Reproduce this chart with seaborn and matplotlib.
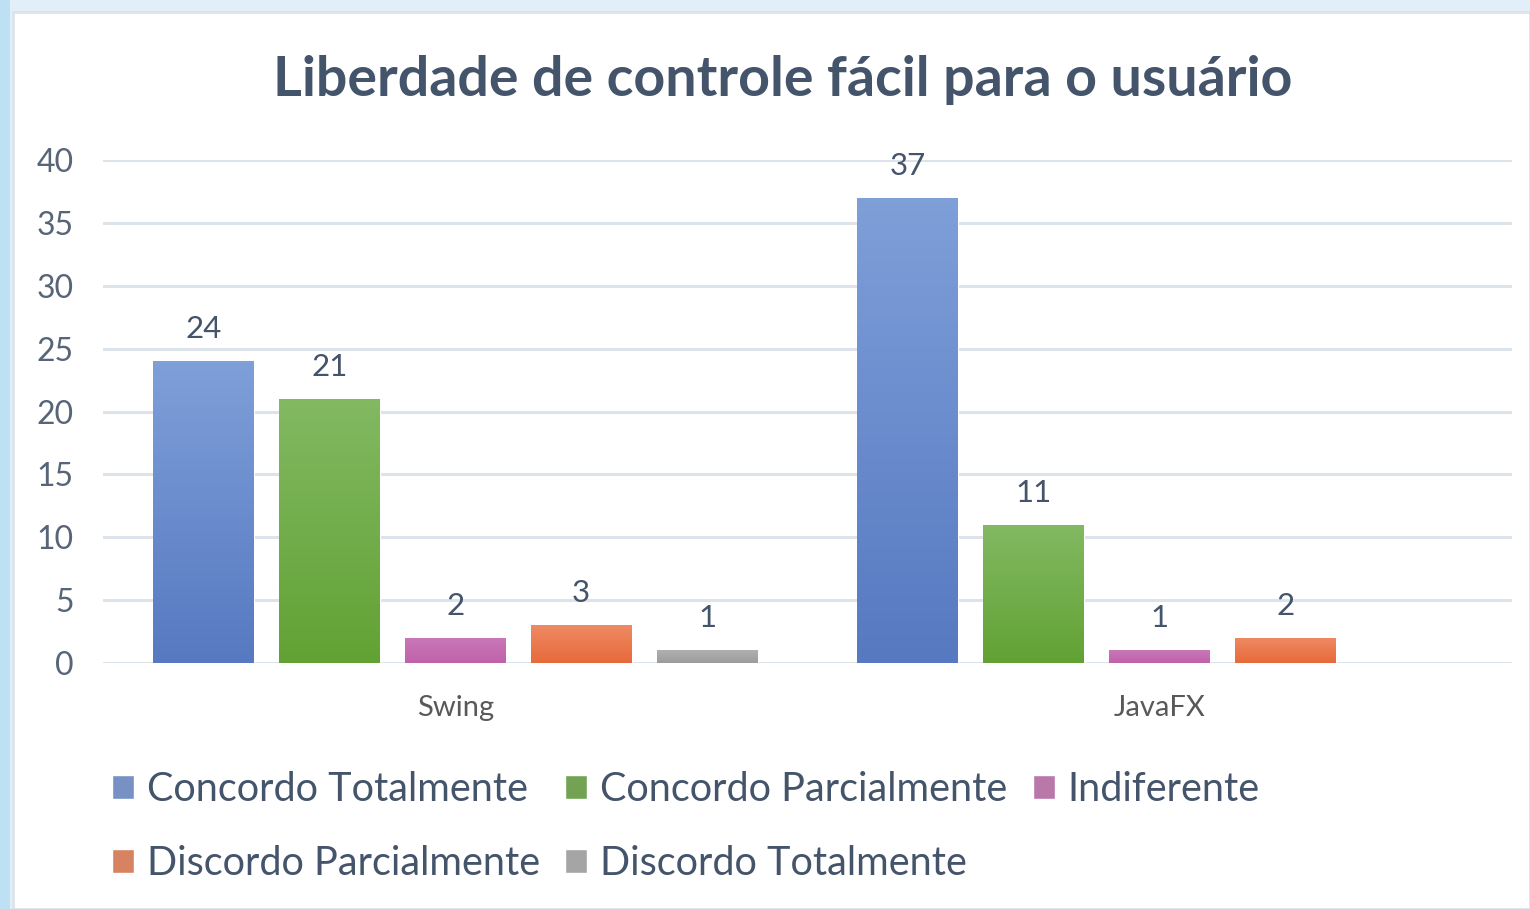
import numpy as np
import pandas as pd
import matplotlib
matplotlib.use("Agg")
import matplotlib.pyplot as plt
import matplotlib.colors as mcolors
from matplotlib.patches import Rectangle
import seaborn as sns

# Daten
grupos = ["Swing", "JavaFX"]
respostas = ["Concordo Totalmente", "Concordo Parcialmente", "Indiferente",
             "Discordo Parcialmente", "Discordo Totalmente"]
swing = [24, 21, 2, 3, 1]
javafx = [37, 11, 1, 2]  # sem "Discordo Totalmente"

cores_topo = ["#7f9fd9", "#82b962", "#c878b8", "#ee8a64", "#b0b0b0"]
cores_base = ["#5679c1", "#62a234", "#c062aa", "#e76a3a", "#9c9c9c"]
cores = ["#6a8dd2", "#70b144", "#c46cb0", "#ea7a4e", "#a5a5a5"]

linhas = []
for r, v in zip(respostas, swing):
    linhas.append({"grupo": "Swing", "resposta": r, "valor": v})
for r, v in zip(respostas, javafx):
    linhas.append({"grupo": "JavaFX", "resposta": r, "valor": v})
df = pd.DataFrame(linhas)

sns.set_style("white")
plt.rcParams["font.family"] = ["Lato", "DejaVu Sans"]
texto = "#44546a"

fig = plt.figure(figsize=(15.3, 9.09), dpi=100)
fig.patch.set_facecolor("#e2eff8")
# painel branco
fig.patches.append(Rectangle((13 / 1530, 0), 1 - 13 / 1530, 1 - 12 / 909,
                             transform=fig.transFigure, facecolor="white",
                             edgecolor="#dce3ea", linewidth=2, zorder=-2))
fig.patches.append(Rectangle((0, 0), 10 / 1530, 1, transform=fig.transFigure,
                             facecolor="#bde0f3", edgecolor="none", zorder=-2))

ax = fig.add_axes([103 / 1530, 246 / 909, (1512 - 103) / 1530, (749 - 246) / 909])
ax.set_facecolor("none")
ax.set_zorder(2)

sns.barplot(data=df, x="grupo", y="valor", hue="resposta", order=grupos,
            hue_order=respostas, palette=cores, width=0.894, gap=0.2,
            ax=ax, legend=True, zorder=3)

# gradiente nas barras
for cont, c1, c2 in zip(ax.containers, cores_topo, cores_base):
    cmap = mcolors.LinearSegmentedColormap.from_list("g", [c2, c1])
    for p in cont.patches:
        if np.isnan(p.get_height()) or p.get_height() == 0:
            continue
        x0, y0 = p.get_x(), p.get_y()
        w, h = p.get_width(), p.get_height()
        grad = np.linspace(0, 1, 100).reshape(-1, 1)
        im = ax.imshow(grad, cmap=cmap, origin="lower", aspect="auto",
                       extent=[x0, x0 + w, y0, y0 + h], zorder=4)
        im.set_clip_path(p)
        p.set_edgecolor("#ffffff")
        p.set_linewidth(0.8)
    ax.bar_label(cont, padding=13, fontsize=22.5, color=texto, zorder=5)

ax.set_xlim(-0.5, 1.5)
ax.set_ylim(0, 40)
ax.set_yticks(range(0, 41, 5))
ax.grid(True, axis="y", color="#dde3ea", linewidth=2.2, zorder=0)
for s in ax.spines.values():
    s.set_visible(False)
ax.tick_params(axis="y", labelsize=23, labelcolor="#586579", length=0, pad=21)
ax.tick_params(axis="x", labelsize=21, labelcolor="#595959", length=0, pad=23)
ax.set_xlabel("")
ax.set_ylabel("")

fig.text(783 / 1530, 1 - 80 / 909, "Liberdade de controle fácil para o usuário",
         ha="center", va="center", fontsize=40, fontweight="bold", color=texto)

# legenda em duas linhas
h, l = ax.get_legend_handles_labels()
ordem = [0, 3, 1, 4, 2]
ax.legend([h[i] for i in ordem], [l[i] for i in ordem], ncol=3, frameon=False,
          loc="upper left", bbox_to_anchor=(112 / 1530, 1 - 771 / 909),
          bbox_transform=fig.transFigure, fontsize=28.5, labelcolor=texto,
          handlelength=0.56, handleheight=0.56, handletextpad=0.32,
          columnspacing=0.64, labelspacing=0.93, borderaxespad=0, borderpad=0)

fig.savefig("out.png", dpi=100, facecolor=fig.get_facecolor())
